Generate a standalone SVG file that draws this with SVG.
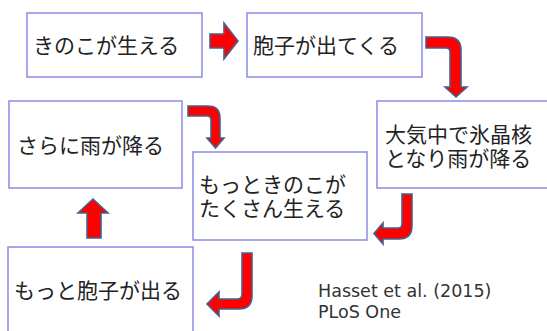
<svg xmlns="http://www.w3.org/2000/svg" width="547" height="331" viewBox="0 0 547 331">
<style>
.box{fill:#fff;stroke:#8b8be6;stroke-width:1.5}
.jp{font-family:"Noto Sans CJK JP","Noto Sans",sans-serif;font-size:21px;fill:#222}
.arr{fill:#ff0000;stroke:#46628e;stroke-width:1.6;stroke-linejoin:miter}
.cite{font-family:"DejaVu Sans",Verdana,sans-serif;font-size:17.5px;fill:#333}
</style>
<rect width="547" height="331" fill="#fff"/>
<g id="node1"><rect class="box" x="27" y="13" width="175" height="64"/><text class="jp" x="33" y="52.5">きのこが生える</text></g>
<g id="node2"><rect class="box" x="247" y="13" width="175" height="64"/><text class="jp" x="253" y="52.5">胞子が出てくる</text></g>
<g id="node3"><rect class="box" x="377" y="101" width="180" height="87"/><text class="jp"><tspan x="385" y="142">大気中で氷晶核</tspan><tspan x="385" y="166">となり雨が降る</tspan></text></g>
<g id="node4"><rect class="box" x="9" y="101" width="173" height="87"/><text class="jp" x="17" y="152.5">さらに雨が降る</text></g>
<g id="node5"><rect class="box" x="193" y="152" width="174" height="88"/><text class="jp"><tspan x="199" y="191.5">もっときのこが</tspan><tspan x="199" y="215.5">たくさん生える</tspan></text></g>
<g id="node6"><rect class="box" x="8" y="247" width="185" height="95"/><text class="jp" x="14" y="297.5">もっと胞子が出る</text></g>
<g id="connectors">
<polygon class="arr" points="210,34 224,34 224,23 238,41 224,59 224,48 210,48"/>
<path class="arr" d="M426,37 L448,37 Q461,37 461,50 L461,87 L467,87 L456,97 L445,87 L450,87 L450,52 Q450,48 446,48 L426,48 Z"/>
<path class="arr" d="M188,106 L208,106 Q220,106 220,118 L220,138 L224,138 L215.5,148 L207,138 L211,138 L211,120 Q211,116 207,116 L188,116 Z"/>
<path class="arr" d="M402,194 L412,194 L412,226 Q412,239 399,239 L383,239 L383,244 L374,233.5 L383,223 L383,228 L398,228 Q402,228 402,224 Z"/>
<path class="arr" d="M242,253 L252,253 L252,296 Q252,309 239,309 L219,309 L219,316 L207,304 L219,292 L219,299 L237,299 Q242,299 242,294 Z"/>
<polygon class="arr" points="93,199 108,213 101,213 101,238 87,238 87,213 78,213"/>
</g>
<text class="cite"><tspan x="318" y="297">Hasset et al. (2015)</tspan><tspan x="318" y="318">PLoS One</tspan></text>
</svg>
